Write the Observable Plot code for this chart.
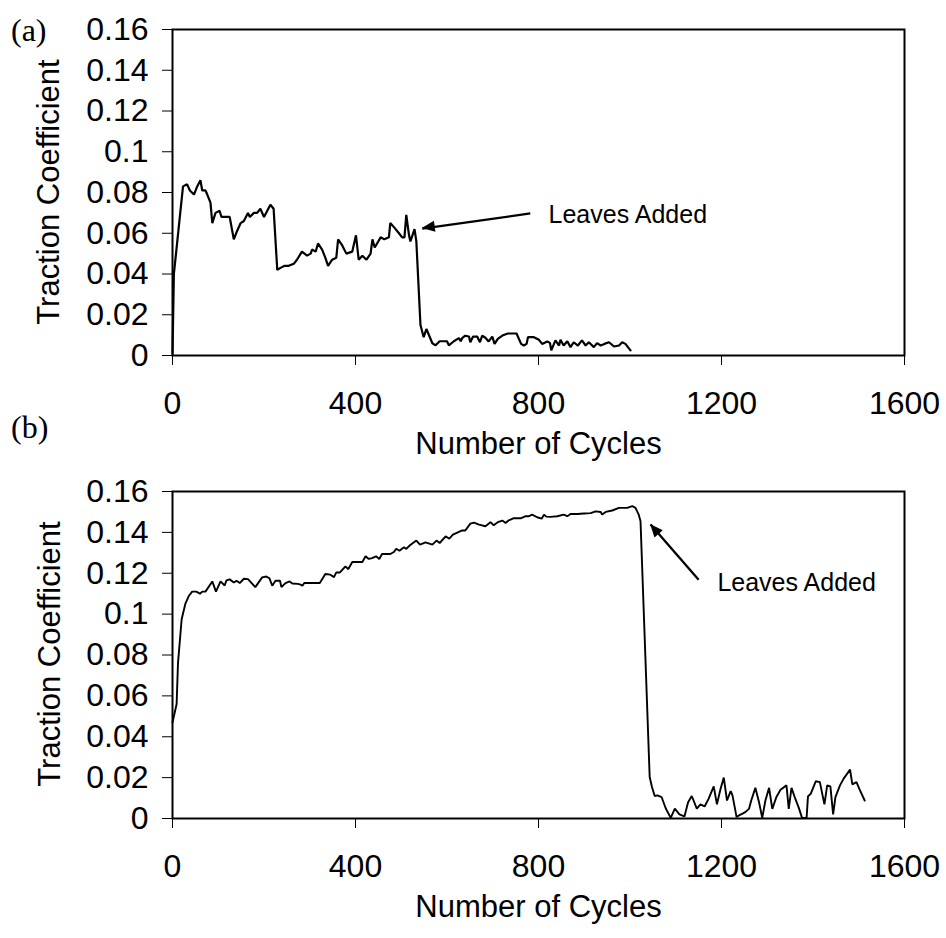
<!DOCTYPE html>
<html>
<head>
<meta charset="utf-8">
<script src="https://cdn.jsdelivr.net/npm/d3@7"></script>
<script src="https://cdn.jsdelivr.net/npm/@observablehq/plot@0.6"></script>
<style>
  html, body { margin: 0; padding: 0; background: #fff; }
  #wrap { position: relative; width: 946px; height: 938px; background: #fff; overflow: hidden; }
  .panel { position: absolute; left: 0; }
  .tag { position: absolute; font-family: "Liberation Serif", "Times New Roman", serif; font-size: 32px; line-height: 1; color: #000; }
  .ylab { position: absolute; font-family: "Liberation Sans", Arial, sans-serif; font-size: 31px; line-height: 1; color: #000;
          white-space: nowrap; transform: translate(-50%, -50%) rotate(-90deg); }
</style>
</head>
<body>
<div id="wrap">
  <div id="top" class="panel" style="top:0px"></div>
  <div id="bottom" class="panel" style="top:470px"></div>
  <div class="tag" style="left:11px; top:14px">(a)</div>
  <div class="tag" style="left:11px; top:411px">(b)</div>
  <div class="ylab" id="ylabA" style="left:48px; top:192px"></div>
  <div class="ylab" id="ylabB" style="left:49px; top:654px"></div>
</div>
<script>
// ---------- data ----------
const xTicks = [0, 400, 800, 1200, 1600];
const yTicks = [0, 0.02, 0.04, 0.06, 0.08, 0.1, 0.12, 0.14, 0.16];
const xLabel = "Number of Cycles";
const yLabel = "Traction Coefficient";
const noteText = "Leaves Added";

// (a)
const cyclesA = [0,3,10,16,23,32,38,47,54,61,65,72,76,83,87,94,103,107,125,134,141,149,156,165,169,178,185,192,200,214,221,229,236,245,254,265,272,283,294,302,305,313,318,327,334,340,349,358,362,371,380,393,401,407,415,424,433,437,442,455,463,473,476,484,495,502,507,511,517,520,529,533,542,549,555,568,575,584,589,600,604,615,626,630,633,640,648,651,657,666,672,677,684,691,699,704,711,721,733,752,762,768,774,777,790,801,808,819,825,828,837,845,848,855,863,870,877,886,895,903,910,921,928,936,944,954,965,976,983,990,1001];
const tractionA = [0.001,0.040,0.055,0.068,0.083,0.084,0.081,0.079,0.083,0.086,0.081,0.081,0.079,0.075,0.065,0.070,0.071,0.068,0.068,0.057,0.061,0.065,0.066,0.070,0.068,0.070,0.070,0.072,0.068,0.074,0.072,0.042,0.043,0.044,0.044,0.045,0.047,0.051,0.049,0.050,0.052,0.051,0.055,0.052,0.048,0.044,0.047,0.048,0.057,0.054,0.050,0.051,0.059,0.047,0.049,0.047,0.050,0.057,0.053,0.058,0.057,0.058,0.065,0.063,0.060,0.058,0.058,0.069,0.059,0.056,0.062,0.056,0.015,0.009,0.013,0.006,0.005,0.007,0.007,0.007,0.005,0.007,0.0085,0.007,0.0085,0.0097,0.0093,0.0065,0.0093,0.0093,0.0065,0.0097,0.0087,0.0069,0.0093,0.0057,0.0082,0.0098,0.0108,0.0108,0.0057,0.0049,0.0057,0.009,0.009,0.0077,0.0057,0.0069,0.0062,0.0025,0.0074,0.0049,0.0077,0.0049,0.007,0.0041,0.0065,0.0049,0.0074,0.0049,0.0065,0.0041,0.0061,0.0049,0.0057,0.0065,0.0044,0.0049,0.0065,0.0057,0.0025];

// (b)
const cyclesB = [0,9,12,20,28,36,43,52,60,65,72,87,95,105,114,118,125,134,140,147,156,165,181,196,205,212,218,225,235,238,247,256,262,274,280,284,288,322,334,345,353,358,366,378,384,393,415,422,429,436,445,452,458,476,484,489,496,506,511,519,533,541,553,568,577,584,597,605,613,632,640,651,659,670,684,695,702,711,721,728,735,745,761,772,779,786,797,807,812,817,826,841,855,863,870,885,899,914,925,936,939,947,961,976,994,1005,1012,1019,1023,1043,1048,1054,1060,1069,1078,1089,1098,1108,1119,1127,1135,1146,1154,1163,1172,1183,1190,1198,1205,1212,1220,1224,1233,1238,1245,1252,1260,1265,1274,1282,1289,1296,1304,1311,1320,1329,1342,1347,1353,1360,1369,1376,1386,1389,1395,1406,1415,1425,1431,1438,1444,1449,1459,1467,1481,1486,1495,1502,1513];
const tractionB = [0.047,0.056,0.076,0.0975,0.105,0.109,0.111,0.111,0.110,0.111,0.111,0.116,0.111,0.116,0.114,0.1165,0.117,0.1155,0.1163,0.1152,0.1173,0.1171,0.1132,0.118,0.1184,0.1175,0.1139,0.1163,0.1163,0.1132,0.1152,0.116,0.115,0.1148,0.1144,0.1139,0.1152,0.1152,0.1196,0.1193,0.1181,0.1204,0.1204,0.1234,0.122,0.1255,0.1255,0.1283,0.127,0.1274,0.1283,0.127,0.1294,0.1294,0.1304,0.132,0.131,0.1327,0.1319,0.1337,0.136,0.134,0.1351,0.134,0.136,0.1348,0.1381,0.1369,0.1389,0.1409,0.1409,0.1443,0.1448,0.1438,0.143,0.145,0.1435,0.145,0.1458,0.1446,0.1459,0.1469,0.1469,0.1479,0.1479,0.1487,0.1474,0.1467,0.1487,0.1477,0.1476,0.1479,0.1487,0.1479,0.149,0.149,0.1492,0.1494,0.1503,0.15,0.1487,0.15,0.1507,0.152,0.152,0.1528,0.152,0.1487,0.1454,0.0203,0.0154,0.011,0.0113,0.0105,0.005,0.0003,0.0048,0.002,0.001,0.008,0.011,0.0048,0.0069,0.0059,0.0097,0.0157,0.0069,0.0146,0.02,0.0088,0.0134,0.0113,0.0007,0.0015,0.0023,0.0031,0.0047,0.0088,0.015,0.008,0.0003,0.0088,0.015,0.0047,0.0105,0.0141,0.0162,0.0047,0.015,0.0105,0.0052,0.0003,0.0003,0.0108,0.0121,0.0182,0.0178,0.0069,0.0162,0.0157,0.002,0.0105,0.0162,0.0195,0.0239,0.0167,0.0178,0.0141,0.0088];

// annotations (data space): arrow tail -> tip, label anchor
const arrowA = {x1: 782, y1: 0.0697, x2: 546, y2: 0.0623};
const noteA = {x: 822, y: 0.0688};
const arrowB = {x1: 1150, y1: 0.1168, x2: 1045, y2: 0.1438};
const noteB = {x: 1191, y: 0.1153};

// ---------- drawing ----------
const fmtY = d => d === 0 ? "0" : String(+d.toFixed(2));

function arrowHead(a, len, half) {
  return (index, scales) => {
    const g = d3.create("svg:g");
    try {
      const x1 = scales.x(a.x1), y1 = scales.y(a.y1), x2 = scales.x(a.x2), y2 = scales.y(a.y2);
      const dx = x2 - x1, dy = y2 - y1, L = Math.hypot(dx, dy);
      const ux = dx / L, uy = dy / L;
      const bx = x2 - ux * len, by = y2 - uy * len;
      const px = -uy * half, py = ux * half;
      g.append("path")
        .attr("d", `M${x2},${y2}L${bx + px},${by + py}L${bx - px},${by - py}Z`)
        .attr("fill", "black");
    } catch (e) {}
    return g.node();
  };
}

function panel(cycles, traction, arrow, note, lineWidth, height, mTop, mBottom) {
  const data = cycles.map((c, i) => ({c, t: traction[i]}));
  return Plot.plot({
    width: 946,
    height,
    marginLeft: 172,
    marginRight: 42,
    marginTop: mTop,
    marginBottom: mBottom,
    style: {fontFamily: "'Liberation Sans', Arial, sans-serif", fontSize: "32px", color: "black", background: "white", overflow: "visible"},
    x: {domain: [0, 1600], ticks: xTicks, tickSize: 10, tickPadding: 26, tickFormat: d => String(d), label: null},
    y: {domain: [0, 0.16], ticks: yTicks, tickSize: 10, tickPadding: 14, tickFormat: fmtY, label: null},
    marks: [
      Plot.frame({stroke: "black", strokeWidth: 2}),
      Plot.line(data, {x: "c", y: "t", stroke: "black", strokeWidth: lineWidth, strokeLinejoin: "miter"}),
      Plot.link([arrow], {x1: "x1", y1: "y1", x2: "x2", y2: "y2", stroke: "black", strokeWidth: 2.3}),
      arrowHead(arrow, 13, 5.5),
      Plot.text([note], {x: "x", y: "y", text: () => noteText, textAnchor: "start", fontSize: 25, fill: "black"}),
      Plot.text([xLabel], {frameAnchor: "bottom", text: d => d, dy: 98, fontSize: 31, fill: "black"})
    ]
  });
}

document.getElementById("top").append(panel(cyclesA, tractionA, arrowA, noteA, 2.2, 470, 29, 115));
document.getElementById("bottom").append(panel(cyclesB, tractionB, arrowB, noteB, 1.9, 468, 21, 120));
document.getElementById("ylabA").textContent = yLabel;
document.getElementById("ylabB").textContent = yLabel;
</script>
</body>
</html>
